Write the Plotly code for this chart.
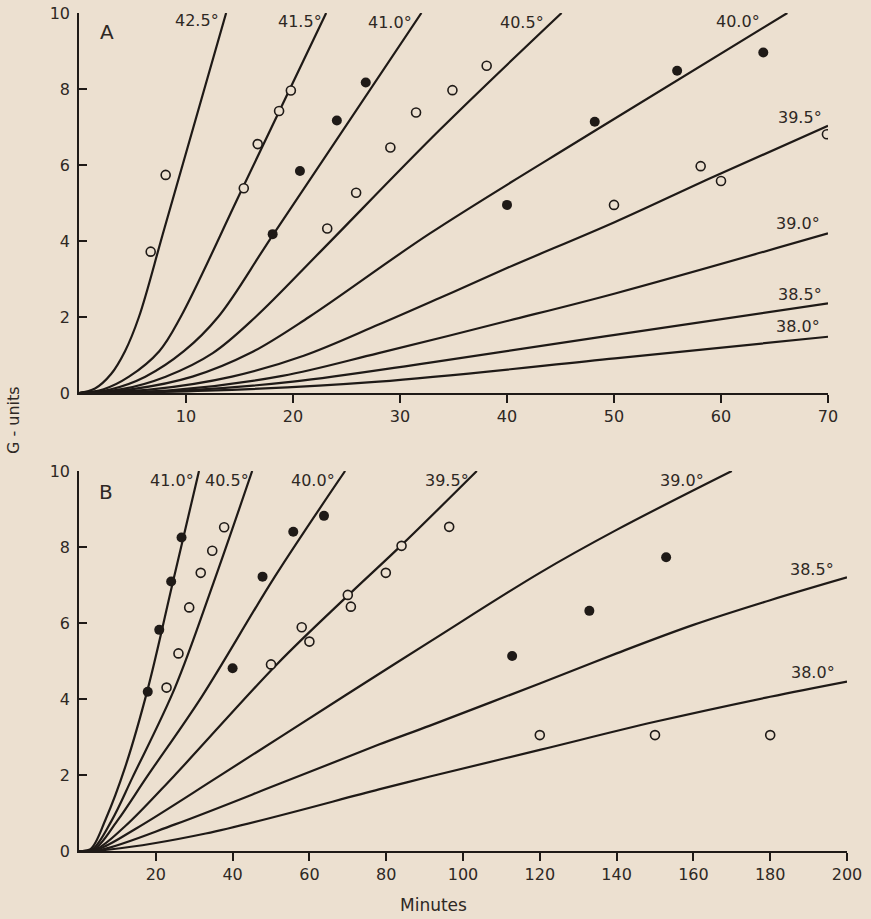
import plotly.graph_objects as go

# ---------------- Panel A : curves (minutes, G-units) ----------------
A_labels = ["42.5°", "41.5°", "41.0°", "40.5°", "40.0°", "39.5°", "39.0°", "38.5°", "38.0°"]
A_t425 = [0, 1.5, 3.0, 4.3, 5.6, 8.0, 13.75]
A_g425 = [0, 0.12, 0.5, 1.1, 2.0, 4.35, 10.0]
A_t415 = [0, 2.3, 4.67, 7.5, 9.5, 15.3, 23.1]
A_g415 = [0, 0.1, 0.43, 1.1, 2.0, 5.4, 10.0]
A_t410 = [0, 3.0, 6.2, 9.8, 13.0, 18.1, 32.0]
A_g410 = [0, 0.1, 0.43, 1.1, 2.0, 4.15, 10.0]
A_t405 = [0, 4.0, 8.1, 12.5, 16.5, 22.7, 33.7, 45.1]
A_g405 = [0, 0.1, 0.43, 1.05, 2.0, 3.76, 6.92, 10.0]
A_t400 = [0, 5.0, 10.6, 16.0, 21.5, 32.8, 48.1, 66.2]
A_g400 = [0, 0.1, 0.43, 1.05, 2.0, 4.2, 6.88, 10.0]
A_t395 = [0, 7.0, 14.3, 21.0, 28.0, 33.7, 40.1, 50.1, 59.3, 70.0]
A_g395 = [0, 0.1, 0.43, 0.98, 1.8, 2.5, 3.3, 4.5, 5.69, 7.03]
A_t390 = [0, 9.0, 19.0, 28.0, 40.1, 50.1, 70.0]
A_g390 = [0, 0.08, 0.45, 1.05, 1.9, 2.62, 4.2]
A_t385 = [0, 10.0, 20.0, 32.8, 50.1, 70.0]
A_g385 = [0, 0.07, 0.3, 0.8, 1.53, 2.36]
A_t380 = [0, 12.0, 28.0, 50.1, 70.0]
A_g380 = [0, 0.06, 0.3, 0.91, 1.48]

# Panel A observations
A_open_t = [6.7, 8.1, 15.4, 16.7, 18.7, 19.8, 23.2, 25.9, 29.1, 31.5, 34.9, 38.1, 50.0, 58.1, 60.0, 69.9]
A_open_g = [3.72, 5.74, 5.39, 6.55, 7.42, 7.96, 4.33, 5.27, 6.46, 7.38, 7.97, 8.61, 4.95, 5.97, 5.58, 6.81]
A_fill_t = [18.1, 20.65, 24.1, 26.8, 40.0, 48.2, 55.9, 63.95]
A_fill_g = [4.18, 5.84, 7.17, 8.17, 4.95, 7.14, 8.48, 8.96]

# ---------------- Panel B : curves ----------------
B_labels = ["41.0°", "40.5°", "40.0°", "39.5°", "39.0°", "38.5°", "38.0°"]
B_t410 = [0, 3.0, 7.0, 12.0, 18.0, 24.5, 31.25]
B_g410 = [0, 0.05, 0.85, 2.2, 4.3, 7.1, 10.0]
B_t405 = [0, 3.5, 8.5, 14.0, 25.0, 35.0, 45.1]
B_g405 = [0, 0.05, 0.8, 1.95, 4.3, 7.05, 10.0]
B_t400 = [0, 4.0, 10.0, 17.8, 31.9, 51.0, 69.3]
B_g400 = [0, 0.05, 0.8, 1.97, 4.05, 7.22, 10.0]
B_t395 = [0, 4.5, 12.0, 24.7, 51.5, 70.0, 84.0, 103.6]
B_g395 = [0, 0.05, 0.65, 1.97, 4.91, 6.72, 8.05, 10.0]
B_t390 = [0, 5.0, 15.0, 36.5, 69.4, 91.4, 120.0, 140.0, 170.0]
B_g390 = [0, 0.05, 0.6, 1.97, 4.1, 5.51, 7.32, 8.45, 10.0]
B_t385 = [0, 6.0, 25.0, 53.0, 78.1, 91.4, 120.0, 140.0, 160.0, 180.0, 200.0]
B_g385 = [0, 0.04, 0.7, 1.8, 2.8, 3.3, 4.41, 5.2, 5.95, 6.6, 7.2]
B_t380 = [0, 8.0, 33.0, 78.1, 91.4, 120.0, 150.0, 180.0, 200.0]
B_g380 = [0, 0.04, 0.46, 1.62, 1.96, 2.66, 3.4, 4.06, 4.46]

# Panel B observations
B_open_t = [22.8, 25.9, 28.7, 31.7, 34.7, 37.8, 50.0, 58.0, 60.0, 70.0, 70.8, 79.9, 84.0, 96.4, 120.0, 150.0, 180.0]
B_open_g = [4.3, 5.2, 6.41, 7.32, 7.9, 8.52, 4.91, 5.89, 5.51, 6.74, 6.43, 7.32, 8.03, 8.53, 3.05, 3.05, 3.05]
B_fill_t = [17.9, 20.9, 24.0, 26.7, 40.0, 47.8, 55.8, 63.8, 112.8, 132.9, 152.9]
B_fill_g = [4.19, 5.82, 7.09, 8.25, 4.81, 7.22, 8.4, 8.82, 5.13, 6.32, 7.73]

# Tick labels
A_xticks = [10, 20, 30, 40, 50, 60, 70]
B_xticks = [20, 40, 60, 80, 100, 120, 140, 160, 180, 200]
y_ticks = [0, 2, 4, 6, 8, 10]

# ---------------- Styling / layout ----------------
W, H = 871, 919
BG = "#ece0d0"
INK = "#1f1a17"
TXT = "#2e2824"
FONT = "DejaVu Sans"

def px_x(p):
    return p / W

def px_y(p):
    return 1 - p / H

fig = go.Figure()

A_curves = [(A_t425, A_g425), (A_t415, A_g415), (A_t410, A_g410), (A_t405, A_g405),
            (A_t400, A_g400), (A_t395, A_g395), (A_t390, A_g390), (A_t385, A_g385),
            (A_t380, A_g380)]
B_curves = [(B_t410, B_g410), (B_t405, B_g405), (B_t400, B_g400), (B_t395, B_g395),
            (B_t390, B_g390), (B_t385, B_g385), (B_t380, B_g380)]

for (t, g), lab in zip(A_curves, A_labels):
    fig.add_trace(go.Scatter(x=t, y=g, mode="lines", name="A " + lab,
                             line=dict(color=INK, width=2.2, shape="spline", smoothing=1.0),
                             xaxis="x", yaxis="y", showlegend=False, hoverinfo="skip"))
for (t, g), lab in zip(B_curves, B_labels):
    fig.add_trace(go.Scatter(x=t, y=g, mode="lines", name="B " + lab,
                             line=dict(color=INK, width=2.2, shape="spline", smoothing=1.0),
                             xaxis="x2", yaxis="y2", showlegend=False, hoverinfo="skip"))

open_marker = dict(symbol="circle", size=9, color=BG, line=dict(color=INK, width=1.6))
fill_marker = dict(symbol="circle", size=10, color=INK, line=dict(color=INK, width=0))

fig.add_trace(go.Scatter(x=A_open_t, y=A_open_g, mode="markers", marker=open_marker,
                         xaxis="x", yaxis="y", showlegend=False))
fig.add_trace(go.Scatter(x=A_fill_t, y=A_fill_g, mode="markers", marker=fill_marker,
                         xaxis="x", yaxis="y", showlegend=False))
fig.add_trace(go.Scatter(x=B_open_t, y=B_open_g, mode="markers", marker=open_marker,
                         xaxis="x2", yaxis="y2", showlegend=False))
fig.add_trace(go.Scatter(x=B_fill_t, y=B_fill_g, mode="markers", marker=fill_marker,
                         xaxis="x2", yaxis="y2", showlegend=False))

tickfont = dict(family=FONT, size=16, color=TXT)

def xaxis_cfg(rng, ticks, dom, anchor):
    return dict(range=rng, domain=dom, anchor=anchor, tickvals=ticks,
                ticks="outside", ticklen=8, tickwidth=1.5, tickcolor=INK,
                showline=True, linecolor=INK, linewidth=1.6, automargin=False,
                showgrid=False, zeroline=False, tickfont=tickfont)

def yaxis_cfg(dom, anchor):
    return dict(range=[0, 10], domain=dom, anchor=anchor, tickvals=y_ticks,
                ticks="inside", ticklen=8, tickwidth=1.5, tickcolor=INK,
                showline=True, linecolor=INK, linewidth=1.6, ticklabelstandoff=4,
                automargin=False, showgrid=False, zeroline=False, tickfont=tickfont)

fig.update_layout(
    width=W, height=H, autosize=False,
    margin=dict(l=0, r=0, t=0, b=0, pad=0),
    paper_bgcolor=BG, plot_bgcolor=BG,
    xaxis=xaxis_cfg([0, 70], A_xticks, [px_x(79), px_x(828)], "y"),
    yaxis=yaxis_cfg([px_y(393), px_y(13)], "x"),
    xaxis2=xaxis_cfg([0, 200], B_xticks, [px_x(79), px_x(847)], "y2"),
    yaxis2=yaxis_cfg([px_y(851), px_y(471)], "x2"),
)

# curve labels (annotation anchor positions, in data units)
A_label_pos = [(11.03, 9.79), (20.65, 9.77), (29.07, 9.74), (41.37, 9.74), (61.59, 9.77),
               (67.38, 7.24), (67.2, 4.45), (67.38, 2.6), (67.2, 1.74)]
B_label_pos = [(24.14, 9.76), (38.46, 9.76), (61.02, 9.76), (95.83, 9.76), (156.95, 9.76),
               (190.8, 7.41), (191.07, 4.7)]

lab_font = dict(family=FONT, size=16, color=TXT)
ann = []
for lab, (x, y) in zip(A_labels, A_label_pos):
    ann.append(dict(x=x, y=y, xref="x", yref="y", text=lab, showarrow=False, font=lab_font,
                    xanchor="center", yanchor="middle"))
for lab, (x, y) in zip(B_labels, B_label_pos):
    ann.append(dict(x=x, y=y, xref="x2", yref="y2", text=lab, showarrow=False, font=lab_font,
                    xanchor="center", yanchor="middle"))

ann.append(dict(x=2.59, y=9.51, xref="x", yref="y", text="A", showarrow=False,
                xanchor="center", yanchor="middle",
                font=dict(family=FONT, size=20, color=TXT)))
ann.append(dict(x=7.03, y=9.46, xref="x2", yref="y2", text="B", showarrow=False,
                xanchor="center", yanchor="middle",
                font=dict(family=FONT, size=20, color=TXT)))
ann.append(dict(x=px_x(13), y=px_y(420), xref="paper", yref="paper", text="G - units",
                textangle=-90, showarrow=False, xanchor="center", yanchor="middle",
                font=dict(family=FONT, size=16, color=TXT)))
ann.append(dict(x=px_x(433), y=px_y(905), xref="paper", yref="paper", text="Minutes",
                showarrow=False, xanchor="center", yanchor="middle",
                font=dict(family=FONT, size=17, color=TXT)))
fig.update_layout(annotations=ann)

fig.write_html(
    "out.html",
    config={"displayModeBar": False},
    post_script="document.body.style.margin='0px';document.body.style.overflow='hidden';"
                "document.body.style.background='" + BG + "';",
)
